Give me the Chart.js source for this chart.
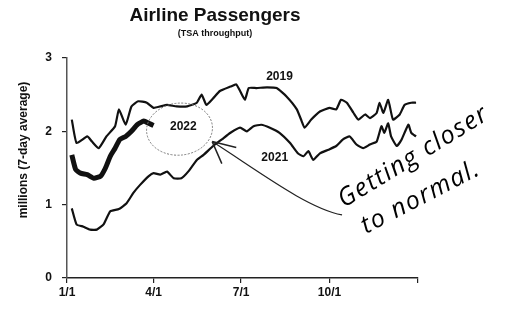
<!DOCTYPE html>
<html>
<head>
<meta charset="utf-8">
<script src="https://cdn.jsdelivr.net/npm/chart.js@4/dist/chart.umd.min.js"></script>
<style>
  html, body { margin: 0; padding: 0; background: #fff; }
  #wrap { width: 529px; height: 311px; }
</style>
</head>
<body>
<div id="wrap"><canvas id="myChart" width="529" height="311"></canvas></div>
<script>
// day of year (0 = 1/1) and millions of passengers, 7-day average
const days2019 = [5, 10, 21, 26, 33, 41, 50, 54, 61, 67, 74, 83, 90, 97, 104, 114, 125, 135, 140, 145, 152, 159, 170, 176, 180, 185, 189, 197, 208, 218, 228, 239, 244, 247, 254, 263, 273, 280, 285, 291, 298, 303, 310, 315, 322, 325, 329, 334, 339, 346, 351, 358, 363];
const values2019 = [2.16, 1.84, 1.93, 1.86, 1.77, 1.93, 2.07, 2.30, 2.09, 2.34, 2.41, 2.39, 2.32, 2.34, 2.36, 2.34, 2.34, 2.39, 2.50, 2.36, 2.45, 2.55, 2.61, 2.64, 2.55, 2.43, 2.59, 2.59, 2.60, 2.59, 2.48, 2.30, 2.14, 2.05, 2.16, 2.27, 2.32, 2.30, 2.43, 2.39, 2.25, 2.16, 2.23, 2.18, 2.25, 2.39, 2.25, 2.43, 2.16, 2.23, 2.36, 2.39, 2.39];

const days2021 = [5, 10, 17, 24, 31, 38, 45, 54, 62, 69, 76, 85, 90, 97, 104, 111, 119, 126, 135, 142, 152, 161, 170, 180, 187, 194, 202, 211, 221, 232, 240, 246, 251, 256, 263, 272, 280, 287, 294, 301, 308, 315, 322, 327, 330, 334, 337, 343, 348, 355, 358, 363];
const values2021 = [0.95, 0.73, 0.70, 0.66, 0.66, 0.73, 0.91, 0.94, 1.02, 1.16, 1.27, 1.39, 1.43, 1.41, 1.45, 1.36, 1.36, 1.45, 1.61, 1.68, 1.80, 1.89, 1.98, 2.05, 2.00, 2.07, 2.09, 2.05, 1.98, 1.84, 1.70, 1.66, 1.73, 1.61, 1.70, 1.75, 1.80, 1.89, 1.93, 1.82, 1.77, 1.82, 1.86, 2.07, 1.98, 2.11, 1.93, 1.80, 1.89, 2.09, 1.98, 1.93];

const days2022 = [5, 9, 14, 21, 28, 35, 40, 45, 50, 55, 61, 67, 73, 80, 85, 90];
const values2022 = [1.68, 1.48, 1.43, 1.41, 1.36, 1.39, 1.50, 1.66, 1.77, 1.89, 1.93, 2.00, 2.09, 2.14, 2.11, 2.08];

const tickDays = [0, 90, 181, 273, 365];
const tickLabels = ['1/1', '4/1', '7/1', '10/1', ''];
const yTicks = [0, 1, 2, 3];

function points(xs, ys) {
    return xs.map((x, i) => ({ x: x, y: ys[i] }));
}

const notes = {
    id: 'notes',
    afterDraw(chart) {
        const c = chart.ctx;
        const xs = chart.scales.x, ys = chart.scales.y;
        const px = d => xs.getPixelForValue(d);
        const py = v => ys.getPixelForValue(v);
        c.save();
        c.fillStyle = '#111';
        c.textAlign = 'center';
        c.textBaseline = 'middle';

        c.font = 'bold 19px "Liberation Sans", Arial, sans-serif';
        c.fillText('Airline Passengers', 215, 16);
        c.font = 'bold 9px "Liberation Sans", Arial, sans-serif';
        c.fillText('(TSA throughput)', 215, 34);

        c.save();
        c.translate(24, 150);
        c.rotate(-Math.PI / 2);
        c.font = 'bold 12px "Liberation Sans", Arial, sans-serif';
        c.fillText('millions (7-day average)', 0, 0);
        c.restore();

        c.font = 'bold 12px "Liberation Sans", Arial, sans-serif';
        c.fillText('2019', px(221), py(2.74));
        c.fillText('2021', px(216), py(1.64));
        c.fillText('2022', px(121), py(2.06));

        // dashed circle round the 2022 label
        c.strokeStyle = '#777';
        c.lineWidth = 1;
        c.setLineDash([2, 1.5]);
        c.beginPath();
        c.ellipse(px(117), py(2.03), 33, 26, -0.1, 0, Math.PI * 2);
        c.stroke();
        c.setLineDash([]);

        // hand-drawn arrow
        c.strokeStyle = '#222';
        c.lineWidth = 1.2;
        c.beginPath();
        c.moveTo(px(286), py(0.86));
        c.bezierCurveTo(px(250), py(0.95), px(200), py(1.45), px(151), py(1.86));
        c.stroke();
        c.lineWidth = 1.5;
        c.beginPath();
        c.moveTo(px(151), py(1.86));
        c.lineTo(px(176), py(1.78));
        c.moveTo(px(151), py(1.86));
        c.lineTo(px(161), py(1.56));
        c.stroke();

        // handwriting
        c.fillStyle = '#000';
        c.font = 'italic 400 25px "Open Sans", sans-serif';
        c.letterSpacing = '1.5px';
        c.textAlign = 'left';
        c.textBaseline = 'alphabetic';
        c.save();
        c.translate(344, 208);
        c.rotate(-0.55);
        c.fillText('Getting closer', 0, 0);
        c.restore();
        c.save();
        c.translate(366, 234);
        c.rotate(-0.48);
        c.fillText('to normal.', 0, 0);
        c.restore();
        c.restore();
    }
};

const lineStyle = { borderColor: '#111', pointRadius: 0, tension: 0.15, fill: false };

const myChart = new Chart(document.getElementById('myChart').getContext('2d'), {
    type: 'line',
    data: {
        datasets: [
            Object.assign({ label: '2019', data: points(days2019, values2019), borderWidth: 2.2 }, lineStyle),
            Object.assign({ label: '2021', data: points(days2021, values2021), borderWidth: 2.2 }, lineStyle),
            Object.assign({ label: '2022', data: points(days2022, values2022), borderWidth: 5 }, lineStyle)
        ]
    },
    options: {
        responsive: false,
        animation: false,
        layout: { padding: { left: 0, top: 58, right: 111, bottom: 0 } },
        plugins: { legend: { display: false }, tooltip: { enabled: false } },
        scales: {
            x: {
                type: 'linear',
                min: 0,
                max: 365,
                afterBuildTicks: s => { s.ticks = tickDays.map(v => ({ value: v })); },
                afterFit: s => { s.height = 33; },
                ticks: {
                    color: '#111',
                    font: { family: '"Liberation Sans", Arial', size: 12, weight: 'bold' },
                    padding: 2,
                    maxRotation: 0,
                    autoSkip: false,
                    callback: (v, i) => tickLabels[i]
                },
                grid: { drawOnChartArea: false, color: '#222', tickLength: 5, lineWidth: 1.2 },
                border: { color: '#222', width: 1.5 }
            },
            y: {
                min: 0,
                max: 3,
                afterBuildTicks: s => { s.ticks = yTicks.map(v => ({ value: v })); },
                afterFit: s => { s.width = 67; },
                ticks: {
                    color: '#111',
                    font: { family: '"Liberation Sans", Arial', size: 12, weight: 'bold' },
                    padding: 10
                },
                grid: { drawOnChartArea: false, color: '#222', tickLength: 5, lineWidth: 1.2 },
                border: { color: '#555', width: 1.5 }
            }
        }
    },
    plugins: [notes]
});
</script>
</body>
</html>
